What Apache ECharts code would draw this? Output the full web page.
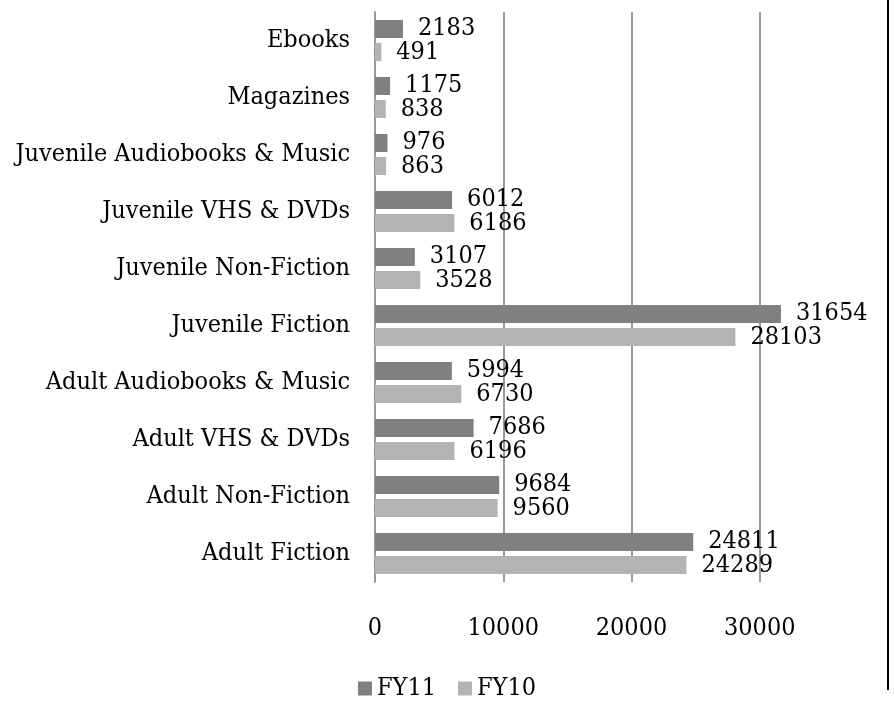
<!DOCTYPE html>
<html>
<head>
<meta charset="utf-8">
<script src="https://cdn.jsdelivr.net/npm/echarts@6/dist/echarts.min.js"></script>
<style>
  html, body { margin: 0; padding: 0; background: #fff; }
  #chart { width: 894px; height: 701px; }
</style>
</head>
<body>
<div id="chart"></div>
<script>
// categories bottom to top, as the axis draws them
const categories = [
  'Adult Fiction',
  'Adult Non-Fiction',
  'Adult VHS & DVDs',
  'Adult Audiobooks & Music',
  'Juvenile Fiction',
  'Juvenile Non-Fiction',
  'Juvenile VHS & DVDs',
  'Juvenile Audiobooks & Music',
  'Magazines',
  'Ebooks'
]
const fy11 = [24811, 9684, 7686, 5994, 31654, 3107, 6012, 976, 1175, 2183]
const fy10 = [24289, 9560, 6196, 6730, 28103, 3528, 6186, 863, 838, 491]

const font = "'DejaVu Serif Condensed', 'DejaVu Serif', serif"
const fontSize = 25

const chart = echarts.init(document.getElementById('chart'))

const label = {
  show: true,
  position: 'right',
  distance: 15,
  color: '#000',
  fontFamily: font,
  fontSize: fontSize
}

chart.setOption({
  animation: false,
  grid: { left: 375, right: 6, top: 12, bottom: 119 },
  legend: {
    bottom: -5,
    left: 'center',
    itemWidth: 14,
    itemHeight: 14,
    itemGap: 22,
    icon: 'rect',
    textStyle: { fontFamily: font, fontSize: fontSize, color: '#000' },
    data: ['FY11', 'FY10']
  },
  xAxis: {
    type: 'value',
    min: 0,
    max: 40000,
    interval: 10000,
    axisLine: { show: false },
    axisTick: { show: false },
    axisLabel: {
      margin: 34,
      color: '#000',
      fontFamily: font,
      fontSize: fontSize,
      showMaxLabel: false,
      formatter: v => String(v)
    },
    splitLine: { lineStyle: { color: '#999', width: 2 } }
  },
  yAxis: {
    type: 'category',
    data: categories,
    axisLine: { lineStyle: { color: '#999', width: 2 } },
    axisTick: { show: false },
    axisLabel: {
      margin: 25,
      color: '#000',
      fontFamily: font,
      fontSize: fontSize
    }
  },
  series: [
    {
      name: 'FY11',
      type: 'bar',
      data: fy11,
      barWidth: 18,
      barGap: '28%',
      itemStyle: { color: '#808080' },
      label: label
    },
    {
      name: 'FY10',
      type: 'bar',
      data: fy10,
      barWidth: 18,
      itemStyle: { color: '#b3b3b3' },
      label: label
    }
  ],
  graphic: [
    {
      // frame edge on the right of the chart
      type: 'rect',
      left: 887,
      top: 0,
      z: 100,
      shape: { width: 2, height: 690 },
      style: { fill: '#000' }
    }
  ]
})
</script>
</body>
</html>
